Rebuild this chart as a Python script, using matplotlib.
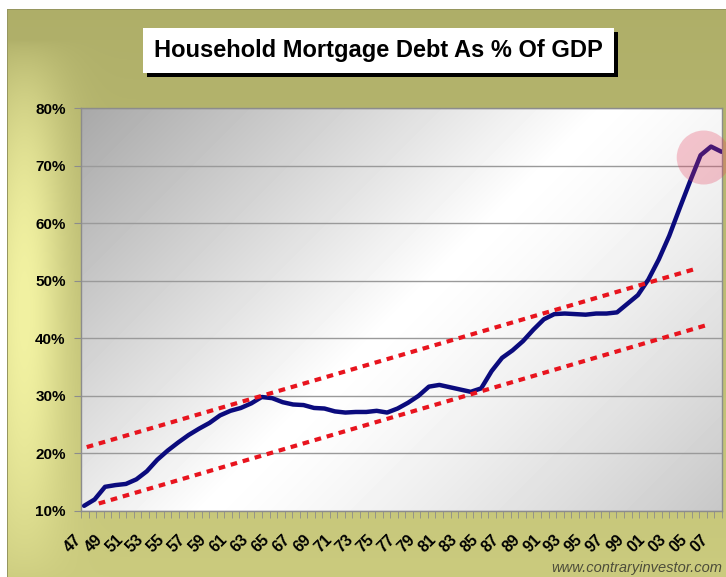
import numpy as np
import matplotlib
matplotlib.use("Agg")
import matplotlib.pyplot as plt
from matplotlib.patches import Circle, Rectangle
from matplotlib.transforms import ScaledTranslation

# ---------------- data ----------------
years = list(range(1947, 2009))
mortgage_debt_pct_gdp = [
    10.9, 12.0, 14.2, 14.5, 14.7, 15.5, 16.9, 18.9, 20.5, 21.9,   # 1947-1956
    23.2, 24.3, 25.3, 26.6, 27.4, 27.9, 28.7, 29.8, 29.6, 28.9,   # 1957-1966
    28.5, 28.4, 27.9, 27.8, 27.3, 27.1, 27.2, 27.2, 27.4, 27.1,   # 1967-1976
    27.8, 28.8, 30.0, 31.6, 31.9, 31.5, 31.1, 30.7, 31.3, 34.3,   # 1977-1986
    36.6, 37.9, 39.5, 41.5, 43.3, 44.2, 44.3, 44.2, 44.1, 44.3,   # 1987-1996
    44.3, 44.5, 46.0, 47.5, 50.2, 53.7, 57.8, 62.6, 67.3, 71.8,   # 1997-2006
    73.3, 72.4,                                                   # 2007-2008
]
upper_trend_years = [1947.25, 2005.4]
upper_trend_pct = [21.1, 52.0]
lower_trend_years = [1948.4, 2006.6]
lower_trend_pct = [11.3, 42.3]
label_years = list(range(1947, 2008, 2))
x_labels = [f"{y % 100:02d}" for y in label_years]
y_ticks = [10, 20, 30, 40, 50, 60, 70, 80]
y_labels = [f"{v}%" for v in y_ticks]
title = "Household Mortgage Debt As % Of GDP"
source = "www.contraryinvestor.com"
highlight_year, highlight_pct = 2006.3, 71.4

plt.rcParams['font.family'] = ['Liberation Sans', 'DejaVu Sans']

W, H, DPI = 726, 577, 100
fig = plt.figure(figsize=(W / DPI, H / DPI), dpi=DPI)
fig.patch.set_facecolor('white')

# ---------------- olive frame background ----------------
yy, xx = np.mgrid[0:H, 0:W].astype(float)
vert = (yy / H)[..., None]
top_c = np.array([174, 174, 104]) / 255
bot_c = np.array([203, 203, 126]) / 255
base = top_c * (1 - vert) + bot_c * vert
hl = np.exp(-((xx - 24) / 42.0) ** 2) * np.sin(np.pi * np.clip((yy - 40) / 540, 0, 1)) ** 0.7
light = np.array([242, 242, 162]) / 255
bg = base * (1 - hl[..., None]) + light * hl[..., None]
fx0, fy0 = 7, 9
edge = np.array([150, 150, 95]) / 255
bg[fy0, fx0:, :] = edge
bg[fy0:, fx0, :] = edge
bg[:fy0, :, :] = 1.0
bg[:, :fx0, :] = 1.0
fig.figimage(np.clip(bg, 0, 1), xo=0, yo=0, origin='upper', zorder=-10)

# ---------------- axes ----------------
L, R, T, B = 81, 722, 108, 511
ax = fig.add_axes([L / W, (H - B) / H, (R - L) / W, (B - T) / H])
xmin, xmax = 1946.7, 2008.05
ax.set_xlim(xmin, xmax)
ax.set_ylim(10, 80)

# plot area gradient
gh, gw = B - T, R - L
gy, gx = np.mgrid[0:gh, 0:gw].astype(float)
t = (gx + gy) / (gw + gh)
grad = np.where(t < 0.5, 1 - 0.34 * ((0.5 - t) / 0.5), 1 - 0.22 * ((t - 0.5) / 0.5) ** 1.3)
ax.imshow(grad, extent=(xmin, xmax, 10, 80), aspect='auto', origin='upper',
          cmap='gray', vmin=0, vmax=1, zorder=0, interpolation='bilinear')

ax.set_axisbelow(True)
ax.yaxis.grid(True, color='#9a9a9a', lw=1.0)

ax.plot(years, mortgage_debt_pct_gdp, color='#0b0b7d', lw=3.2,
        solid_joinstyle='round', solid_capstyle='round', zorder=3)
for ty, tp in ((upper_trend_years, upper_trend_pct), (lower_trend_years, lower_trend_pct)):
    ax.plot(ty, tp, color='#e8141e', lw=3.0, dashes=(1.6, 1.4),
            dash_capstyle='butt', zorder=4)

for s in ax.spines.values():
    s.set_color('#8c8c8c')
    s.set_linewidth(1.0)

ax.set_yticks(y_ticks)
ax.set_yticklabels(y_labels, fontsize=11, fontweight='bold')
ax.tick_params(axis='y', length=5, color='#8c8c8c', pad=6)

ax.set_xticks(label_years)
ax.set_xticklabels(x_labels, rotation=45, ha='right', va='top',
                   fontsize=11.5, fontweight='bold')
ax.tick_params(axis='x', which='major', length=0, pad=15)
ax.set_xticks(np.linspace(xmin, xmax, 86), minor=True)
ax.tick_params(axis='x', which='minor', length=5, color='#8c8c8c', direction='out')

# highlight circle
circ = Circle((0, 0), 0.27, transform=fig.dpi_scale_trans +
              ScaledTranslation(highlight_year, highlight_pct, ax.transData),
              facecolor='#e63c5a', alpha=0.28, edgecolor='none', clip_on=False, zorder=5)
fig.add_artist(circ)

# title box with shadow
bx0, by0, bx1, by1 = 143, 28, 614, 73
fig.add_artist(Rectangle(((bx0 + 4) / W, 1 - (by1 + 4) / H), (bx1 - bx0) / W, (by1 - by0) / H,
                         transform=fig.transFigure, facecolor='black', edgecolor='none', zorder=6))
fig.add_artist(Rectangle((bx0 / W, 1 - by1 / H), (bx1 - bx0) / W, (by1 - by0) / H,
                         transform=fig.transFigure, facecolor='white', edgecolor='none', zorder=7))
fig.text((bx0 + bx1) / 2 / W, 1 - (by0 + by1) / 2 / H, title, ha='center', va='center',
         fontsize=17, fontweight='bold', color='black', zorder=8)

fig.text(722 / W, 1 - 568 / H, source, style='italic', fontsize=10.5,
         color='#4d4d3a', ha='right', va='center')

fig.savefig('out.png', dpi=DPI)
